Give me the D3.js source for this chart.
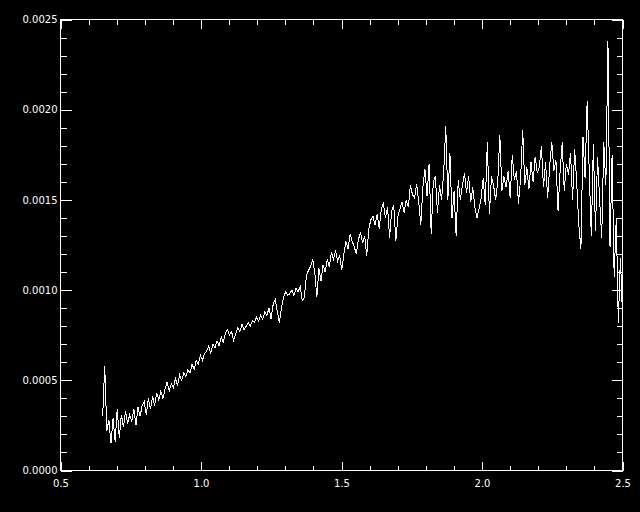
<!DOCTYPE html>
<html>
<meta charset="utf-8">
<head>
    <script src="https://d3js.org/d3.v7.min.js"></script>
    <style>
        body { margin: 0; background: black; }
        text { font-family: "DejaVu Sans", sans-serif; font-size: 10px; fill: white; }
    </style>
</head>
<body>
    <script>

        // wavelength grid of the spectrum (microns)
        var waveStart = 0.65,
            waveStep = 0.0074;

        // flux, one value per grid step
        var flux = [
            0.00030, 0.00058, 0.00022, 0.00028, 0.00015, 0.00029, 0.00016, 0.00034, 0.00018, 0.00031,
            0.00024, 0.00033, 0.00026, 0.00031, 0.00027, 0.00034, 0.00025, 0.00035, 0.00030, 0.00036,
            0.00038, 0.00031, 0.00040, 0.00034, 0.00041, 0.00036, 0.00043, 0.00039, 0.00044, 0.00040,
            0.00045, 0.00049, 0.00044, 0.00048, 0.00046, 0.00051, 0.00047, 0.00053, 0.00050, 0.00054,
            0.00052, 0.00056, 0.00054, 0.00059, 0.00056, 0.00061, 0.00059, 0.00064, 0.00061, 0.00065,
            0.00066, 0.00069, 0.00065, 0.00070, 0.00068, 0.00072, 0.00069, 0.00074, 0.00071, 0.00076,
            0.00078, 0.00075, 0.00077, 0.00072, 0.00076, 0.00079, 0.00077, 0.00081, 0.00078, 0.00080,
            0.00082, 0.00080, 0.00083, 0.00082, 0.00085, 0.00083, 0.00086, 0.00084, 0.00088, 0.00086,
            0.00090, 0.00084, 0.00092, 0.00095, 0.00088, 0.00082, 0.00090, 0.00096, 0.00099, 0.00097,
            0.00098, 0.00100, 0.00097, 0.00101, 0.00099, 0.00102, 0.00094, 0.00096, 0.00108, 0.00111,
            0.00113, 0.00117, 0.00110, 0.00096, 0.00112, 0.00105, 0.00114, 0.00110, 0.00117, 0.00113,
            0.00121, 0.00117, 0.00122, 0.00116, 0.00119, 0.00111, 0.00120, 0.00127, 0.00123, 0.00131,
            0.00127, 0.00124, 0.00120, 0.00128, 0.00132, 0.00126, 0.00130, 0.00119, 0.00134, 0.00139,
            0.00141, 0.00136, 0.00142, 0.00134, 0.00145, 0.00148, 0.00140, 0.00146, 0.00129, 0.00144,
            0.00147, 0.00127, 0.00141, 0.00145, 0.00149, 0.00143, 0.00150, 0.00146, 0.00158, 0.00153,
            0.00151, 0.00159, 0.00149, 0.00136, 0.00157, 0.00167, 0.00152, 0.00170, 0.00131, 0.00160,
            0.00163, 0.00143, 0.00158, 0.00150, 0.00165, 0.00191, 0.00150, 0.00176, 0.00140, 0.00155,
            0.00130, 0.00161, 0.00150, 0.00158, 0.00165, 0.00154, 0.00163, 0.00149, 0.00157, 0.00146,
            0.00140, 0.00145, 0.00151, 0.00162, 0.00147, 0.00182, 0.00142, 0.00163, 0.00158, 0.00150,
            0.00160, 0.00186, 0.00155, 0.00163, 0.00157, 0.00166, 0.00151, 0.00175, 0.00161, 0.00166,
            0.00148, 0.00162, 0.00189, 0.00158, 0.00168, 0.00156, 0.00171, 0.00160, 0.00174, 0.00165,
            0.00168, 0.00180, 0.00157, 0.00171, 0.00151, 0.00169, 0.00182, 0.00166, 0.00172, 0.00144,
            0.00166, 0.00182, 0.00155, 0.00170, 0.00164, 0.00176, 0.00150, 0.00178, 0.00159, 0.00136,
            0.00123, 0.00185, 0.00162, 0.00205, 0.00166, 0.00130, 0.00181, 0.00133, 0.00174, 0.00150,
            0.00129, 0.00182, 0.00158, 0.00238, 0.00124, 0.00175, 0.00107, 0.00140, 0.00082, 0.00118,
            0.00086
        ];

        var xTicks = [0.5, 1.0, 1.5, 2.0, 2.5],
            yTicks = [0.0000, 0.0005, 0.0010, 0.0015, 0.0020, 0.0025];

        var width = 640,
            height = 512,
            plotLeft = 60.5, plotRight = 622.5,
            plotTop = 19.5, plotBottom = 470.5;

        var svg = d3.select("body").append("svg")
            .attr("width", width)
            .attr("height", height);

        svg.append("rect")
            .attr("width", width)
            .attr("height", height)
            .attr("fill", "black");

        var x = d3.scaleLinear().domain([0.5, 2.5]).range([plotLeft, plotRight]);
        var y = d3.scaleLinear().domain([0, 0.0025]).range([plotBottom, plotTop]);

        var xMinor = d3.range(0.5, 2.5001, 0.1),
            yMinor = d3.range(0, 0.00250001, 0.0001);

        function axisStyle(g) {
            g.select(".domain").remove();
            g.selectAll("line").attr("stroke", "white").attr("shape-rendering", "crispEdges");
            g.selectAll("text").attr("fill", "white").attr("font-size", null).attr("font-family", null);
        }

        // bottom
        svg.append("g").attr("transform", "translate(0," + plotBottom + ")")
            .call(d3.axisBottom(x).tickValues(xMinor).tickSize(-5).tickFormat(""))
            .call(axisStyle);
        svg.append("g").attr("transform", "translate(0," + plotBottom + ")")
            .call(d3.axisBottom(x).tickValues(xTicks).tickSize(-9).tickPadding(9).tickFormat(d3.format(".1f")))
            .call(axisStyle);
        // top
        svg.append("g").attr("transform", "translate(0," + plotTop + ")")
            .call(d3.axisTop(x).tickValues(xMinor).tickSize(-5).tickFormat(""))
            .call(axisStyle);
        svg.append("g").attr("transform", "translate(0," + plotTop + ")")
            .call(d3.axisTop(x).tickValues(xTicks).tickSize(-9).tickFormat(""))
            .call(axisStyle);
        // left
        svg.append("g").attr("transform", "translate(" + plotLeft + ",0)")
            .call(d3.axisLeft(y).tickValues(yMinor).tickSize(-6).tickFormat(""))
            .call(axisStyle);
        svg.append("g").attr("transform", "translate(" + plotLeft + ",0)")
            .call(d3.axisLeft(y).tickValues(yTicks).tickSize(-11).tickPadding(3).tickFormat(d3.format(".4f")))
            .call(axisStyle);
        // right
        svg.append("g").attr("transform", "translate(" + plotRight + ",0)")
            .call(d3.axisRight(y).tickValues(yMinor).tickSize(-6).tickFormat(""))
            .call(axisStyle);
        svg.append("g").attr("transform", "translate(" + plotRight + ",0)")
            .call(d3.axisRight(y).tickValues(yTicks).tickSize(-11).tickFormat(""))
            .call(axisStyle);

        svg.append("rect")
            .attr("x", plotLeft)
            .attr("y", plotTop)
            .attr("width", plotRight - plotLeft)
            .attr("height", plotBottom - plotTop)
            .attr("fill", "none")
            .attr("stroke", "white")
            .attr("shape-rendering", "crispEdges");

        var line = d3.line()
            .x(function(d, i) { return x(waveStart + i * waveStep); })
            .y(function(d) { return y(d); });

        svg.append("path")
            .datum(flux)
            .attr("d", line)
            .attr("fill", "none")
            .attr("stroke", "white")
            .attr("stroke-width", 1)
            .attr("shape-rendering", "crispEdges");

    </script>
</body>
</html>
